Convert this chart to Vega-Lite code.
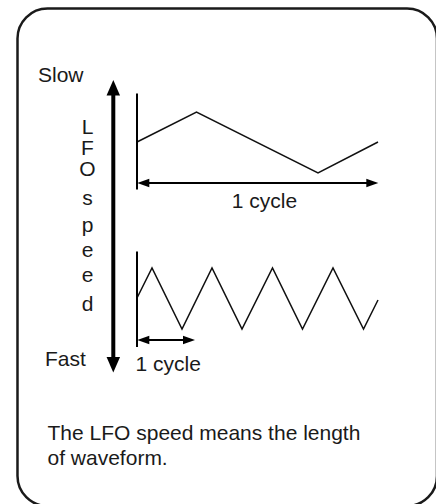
{
  "$schema": "https://vega.github.io/schema/vega-lite/v6.json",
  "width": 436,
  "height": 504,
  "padding": 0,
  "autosize": {"type": "none"},
  "background": "white",
  "config": {"view": {"stroke": null}},
  "datasets": {
    "frame": [{"x": 17.5, "x2": 437, "y": 8.5, "y2": 506}],
    "lines": [
      {"g": "wave1", "kind": "wave", "i": 0, "x": 137, "y": 142},
      {"g": "wave1", "kind": "wave", "i": 1, "x": 196.5, "y": 112},
      {"g": "wave1", "kind": "wave", "i": 2, "x": 318, "y": 173},
      {"g": "wave1", "kind": "wave", "i": 3, "x": 378, "y": 142},
      {"g": "wave2", "kind": "wave", "i": 0, "x": 137, "y": 298},
      {"g": "wave2", "kind": "wave", "i": 1, "x": 152, "y": 268},
      {"g": "wave2", "kind": "wave", "i": 2, "x": 182, "y": 329},
      {"g": "wave2", "kind": "wave", "i": 3, "x": 212, "y": 268},
      {"g": "wave2", "kind": "wave", "i": 4, "x": 242, "y": 329},
      {"g": "wave2", "kind": "wave", "i": 5, "x": 272.5, "y": 268},
      {"g": "wave2", "kind": "wave", "i": 6, "x": 302.5, "y": 329},
      {"g": "wave2", "kind": "wave", "i": 7, "x": 333, "y": 268},
      {"g": "wave2", "kind": "wave", "i": 8, "x": 363.5, "y": 329},
      {"g": "wave2", "kind": "wave", "i": 9, "x": 378, "y": 300},
      {"g": "axis1", "kind": "thin", "i": 0, "x": 137, "y": 93.5},
      {"g": "axis1", "kind": "thin", "i": 1, "x": 137, "y": 189.5},
      {"g": "axis2", "kind": "thin", "i": 0, "x": 137, "y": 251.5},
      {"g": "axis2", "kind": "thin", "i": 1, "x": 137, "y": 347},
      {"g": "cyc1", "kind": "thin", "i": 0, "x": 143, "y": 183},
      {"g": "cyc1", "kind": "thin", "i": 1, "x": 372, "y": 183},
      {"g": "cyc2", "kind": "thin", "i": 0, "x": 143, "y": 340},
      {"g": "cyc2", "kind": "thin", "i": 1, "x": 189, "y": 340},
      {"g": "speed", "kind": "thick", "i": 0, "x": 113.3, "y": 92},
      {"g": "speed", "kind": "thick", "i": 1, "x": 113.3, "y": 361}
    ],
    "heads": [
      {"dir": "up", "x": 113.3, "y": 80},
      {"dir": "down", "x": 113.3, "y": 372.5},
      {"dir": "left", "x": 137.3, "y": 183},
      {"dir": "right", "x": 378.3, "y": 183},
      {"dir": "left", "x": 137.3, "y": 340},
      {"dir": "right", "x": 195, "y": 340}
    ],
    "texts": [
      {"t": "Slow", "a": "left", "x": 38, "y": 82},
      {"t": "Fast", "a": "left", "x": 45, "y": 366},
      {"t": "1 cycle", "a": "left", "x": 135.5, "y": 370.5},
      {"t": "The LFO speed means the length", "a": "left", "x": 47.5, "y": 439.5},
      {"t": "of waveform.", "a": "left", "x": 47.5, "y": 464.5},
      {"t": "1 cycle", "a": "center", "x": 264.5, "y": 208},
      {"t": "L", "a": "center", "x": 87.5, "y": 134},
      {"t": "F", "a": "center", "x": 87.5, "y": 155},
      {"t": "O", "a": "center", "x": 87.5, "y": 176},
      {"t": "s", "a": "center", "x": 87.5, "y": 205},
      {"t": "p", "a": "center", "x": 87.5, "y": 232},
      {"t": "e", "a": "center", "x": 87.5, "y": 257},
      {"t": "e", "a": "center", "x": 87.5, "y": 282},
      {"t": "d", "a": "center", "x": 87.5, "y": 311}
    ]
  },
  "encoding": {
    "x": {"field": "x", "type": "quantitative", "scale": {"domain": [0, 436], "nice": false, "zero": false}, "axis": null},
    "y": {"field": "y", "type": "quantitative", "scale": {"domain": [0, 504], "nice": false, "zero": false, "reverse": true}, "axis": null}
  },
  "layer": [
    {
      "data": {"name": "frame"},
      "mark": {"type": "rect", "cornerRadius": 30, "fill": null, "filled": false, "stroke": "#1a1a1a", "strokeWidth": 2.5},
      "encoding": {
        "x2": {"field": "x2"},
        "y2": {"field": "y2"}
      }
    },
    {
      "data": {"name": "lines"},
      "transform": [{"filter": "datum.kind === 'wave'"}],
      "mark": {"type": "line", "color": "#111111", "strokeWidth": 1.5, "strokeJoin": "miter"},
      "encoding": {
        "detail": {"field": "g"},
        "order": {"field": "i", "type": "quantitative"}
      }
    },
    {
      "data": {"name": "lines"},
      "transform": [{"filter": "datum.kind === 'thin'"}],
      "mark": {"type": "line", "color": "#000000", "strokeWidth": 2},
      "encoding": {
        "detail": {"field": "g"},
        "order": {"field": "i", "type": "quantitative"}
      }
    },
    {
      "data": {"name": "lines"},
      "transform": [{"filter": "datum.kind === 'thick'"}],
      "mark": {"type": "line", "color": "#000000", "strokeWidth": 4},
      "encoding": {
        "detail": {"field": "g"},
        "order": {"field": "i", "type": "quantitative"}
      }
    },
    {
      "data": {"name": "heads"},
      "mark": {"type": "point", "filled": true, "color": "#000000", "opacity": 1, "size": 100, "strokeWidth": 0},
      "encoding": {
        "shape": {
          "field": "dir",
          "type": "nominal",
          "legend": null,
          "scale": {
            "domain": ["up", "down", "left", "right"],
            "range": [
              "M0,0L-1.35,3.1L1.35,3.1Z",
              "M0,0L-1.35,-3.1L1.35,-3.1Z",
              "M0,0L2.4,-0.85L2.4,0.85Z",
              "M0,0L-2.4,-0.85L-2.4,0.85Z"
            ]
          }
        }
      }
    },
    {
      "data": {"name": "texts"},
      "transform": [{"filter": "datum.a === 'left'"}],
      "mark": {"type": "text", "align": "left", "baseline": "alphabetic", "font": "Liberation Sans", "fontSize": 21, "color": "#1a1a1a"},
      "encoding": {"text": {"field": "t"}}
    },
    {
      "data": {"name": "texts"},
      "transform": [{"filter": "datum.a === 'center'"}],
      "mark": {"type": "text", "align": "center", "baseline": "alphabetic", "font": "Liberation Sans", "fontSize": 21, "color": "#1a1a1a"},
      "encoding": {"text": {"field": "t"}}
    }
  ]
}
